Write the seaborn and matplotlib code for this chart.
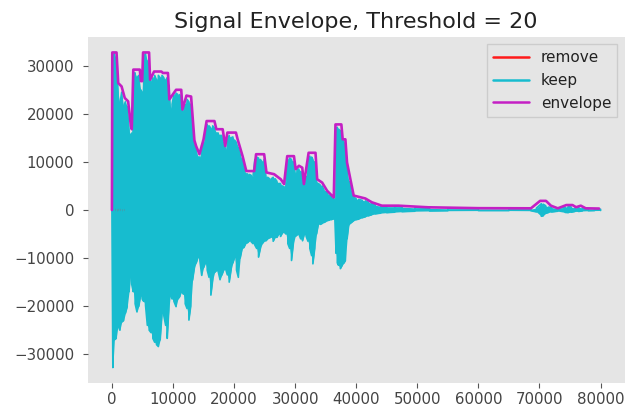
import numpy as np
import pandas as pd
import matplotlib
matplotlib.use("Agg")
import matplotlib.pyplot as plt
import seaborn as sns

# ---------------- data ----------------
title = "Signal Envelope, Threshold = 20"

env_x = [0, 60, 750, 1030, 1580, 2100, 2650, 3100, 3250, 3500, 4560, 4750, 4950, 5100,
         6080, 6250, 6900, 8090, 8360, 9170, 9400, 10500, 11350, 11550, 12200, 12960,
         13500, 13780, 14330, 15000, 15500, 16780, 17100, 18130, 18550, 18900, 20300,
         20580, 21390, 22000, 23290, 23600, 24920, 25300, 26550, 27640, 28180, 28700,
         29800, 30080, 30620, 31160, 31430, 32200, 33330, 33600, 34420, 35230, 36320,
         36600, 37560, 37780, 38220, 38490, 39040, 39580, 41480, 42560, 44190, 46900,
         51800, 60000, 68600, 70100, 71060, 71870, 73000, 74400, 75400, 76000, 76760,
         77570, 79750]
env_y = [0, 32767, 32767, 26400, 25700, 23300, 22600, 17500, 16800, 29200, 29200, 26800,
         26800, 32767, 32767, 27100, 28800, 28800, 28500, 28500, 23000, 25000, 25000,
         20900, 23800, 23600, 14500, 13300, 11600, 14700, 18500, 18500, 16800, 16800,
         13300, 16100, 16100, 14700, 11200, 8100, 8100, 11600, 11600, 7800, 7450, 6400,
         5400, 11200, 11200, 8500, 9200, 8800, 5400, 11900, 11900, 6400, 5700, 4000,
         2600, 17800, 17800, 14700, 14700, 9900, 6400, 3000, 2400, 1600, 900, 900, 560,
         380, 350, 1900, 1900, 900, 350, 1030, 1030, 580, 900, 350, 300]

keep_x = [0, 150, 400, 700, 1000, 1300, 1600, 1900, 2200, 2500, 2800, 3000, 3250, 3500,
          3800, 4100, 4400, 4700, 4950, 5200, 5500, 5800, 6100, 6400, 6700, 7000, 7300,
          7600, 7900, 8200, 8500, 8800, 9050, 9300, 9550, 9850, 10150, 10500, 10800,
          11100, 11400, 11700, 12000, 12300, 12600, 12900, 13200, 13500, 13800, 14100,
          14400, 14700, 15000, 15300, 15600, 15900, 16200, 16500, 16800, 17100, 17400,
          17700, 18000, 18300, 18600, 18900, 19200, 19500, 19800, 20100, 20400, 20700,
          21000, 21300, 21600, 21900, 22200, 22500, 22800, 23100, 23400, 23700, 24000,
          24300, 24600, 24900, 25200, 25500, 25800, 26100, 26400, 26700, 27000, 27300,
          27600, 27900, 28200, 28500, 28800, 29100, 29400, 29700, 30000, 30300, 30600,
          30900, 31200, 31500, 31800, 32100, 32400, 32700, 32900, 33200, 33500, 33800,
          34100, 34400, 34700, 35000, 35300, 35600, 35900, 36200, 36500, 36700, 36900,
          37100, 37400, 37700, 38000, 38220, 38500, 38760, 39000, 39500, 40000, 40400,
          41000, 41500, 42000, 42500, 43100, 44000, 45000, 46300, 47500, 49600, 52000,
          55000, 60000, 65000, 68600, 69500, 70300, 70600, 71000, 71500, 72000, 73000,
          74200, 74700, 75200, 75800, 76400, 77000, 78000, 79000, 80000]
keep_hi = [0, 32000, 32500, 31500, 24500, 22000, 24500, 21500, 22500, 21500, 16500, 15500,
           16000, 28500, 28500, 27500, 28000, 25000, 24500, 32000, 32500, 31000, 30000,
           26000, 27500, 28000, 27000, 28000, 27500, 28000, 27500, 27000, 27500, 26000,
           21000, 22000, 24000, 24300, 24000, 24000, 22500, 20000, 22000, 23000, 22500,
           22000, 16000, 13500, 12500, 11000, 11000, 13500, 14000, 16500, 17800, 17500,
           17000, 17500, 17000, 16000, 16000, 15500, 15500, 14000, 12500, 14500, 15500,
           15000, 15200, 14500, 14000, 13000, 11500, 10500, 9500, 7500, 7500, 7400, 7200,
           7000, 10500, 11000, 10800, 10500, 10000, 10500, 7000, 6800, 6500, 6500, 6800,
           6500, 6000, 5500, 5500, 5000, 4800, 6000, 10500, 10800, 10500, 10000, 7500,
           8500, 8500, 8000, 7500, 5000, 7000, 10000, 11200, 11000, 10500, 10000, 6000,
           5500, 5200, 5000, 4200, 3800, 3500, 3000, 2800, 2400, 2200, 17000, 17200,
           16800, 16500, 15000, 14000, 13500, 9000, 6000, 5000, 2800, 2300, 2200, 2000,
           1900, 1600, 1400, 1000, 800, 700, 700, 600, 450, 350, 250, 200, 200, 200, 400,
           1300, 1200, 900, 600, 500, 300, 600, 800, 600, 400, 600, 400, 250, 200, 150]
keep_lo = [0, -32768, -27000, -26700, -24000, -25000, -23300, -23000, -21500, -20100,
           -17000, -13600, -15500, -17000, -19500, -21200, -20000, -17700, -18500, -19000,
           -19800, -24000, -25000, -25500, -26700, -27500, -28000, -28400, -27000, -21500,
           -22000, -24000, -26700, -21000, -17700, -18500, -19000, -20100, -18500, -18000,
           -17000, -17500, -19500, -20500, -22900, -20000, -14600, -12000, -11000, -9800,
           -10500, -13600, -12000, -11000, -12500, -14000, -17700, -14500, -13000, -12600,
           -12800, -14500, -13500, -12500, -12200, -13500, -15000, -12500, -11000, -9800,
           -12500, -14000, -10000, -8100, -7800, -7000, -6800, -6400, -6600, -7000, -7300,
           -8000, -9800, -8000, -7000, -6500, -6400, -6000, -5800, -5600, -6500, -5700,
           -5700, -5000, -5500, -4800, -4600, -5000, -7000, -8000, -10500, -7000, -5500,
           -5200, -5000, -6000, -6400, -5000, -5500, -6500, -8000, -9500, -11200, -8000,
           -5000, -2900, -3000, -2800, -2600, -2400, -2200, -2100, -2000, -1900, -1900,
           -9000, -11000, -11500, -12200, -11500, -11000, -10500, -6000, -3200, -2800,
           -2300, -2000, -1900, -1600, -1400, -1200, -1000, -800, -650, -550, -450, -350,
           -250, -200, -150, -120, -120, -150, -400, -1300, -1200, -700, -500, -400, -250,
           -500, -550, -450, -300, -300, -200, -150, -120, -100]

remove_x = [0, 400, 800, 1200, 1600, 2000]
remove_y = [0, 150, -120, 90, -60, 0]

# ---------------- style ----------------
sns.set_theme(style="white", rc={
    "axes.facecolor": "#e5e5e5",
    "figure.facecolor": "white",
    "axes.grid": False,
    "axes.spines.left": False, "axes.spines.right": False,
    "axes.spines.top": False, "axes.spines.bottom": False,
    "xtick.bottom": True, "ytick.left": True,
})
plt.rcParams["font.family"] = ["DejaVu Sans"]

fig, ax = plt.subplots(figsize=(6.26, 4.15), dpi=100)
fig.subplots_adjust(left=87.5 / 626, right=625 / 626, top=1 - 36.7 / 415, bottom=1 - 383.3 / 415)

c_keep = "#17bccf"
c_env = "#c41fc4"
c_rem = "#ff1a1a"

# remove (hidden under keep, as in the reference)
sns.lineplot(x=remove_x, y=remove_y, color=c_rem, lw=1.5, label="remove",
             sort=False, estimator=None, ax=ax)

# keep: dense waveform represented by its per-anchor extremes
kx = np.asarray(keep_x, float)
hi = np.asarray(keep_hi, float)
lo = np.asarray(keep_lo, float)
ax.fill_between(kx, lo, hi, color=c_keep, lw=0)
wave_x = np.repeat(kx, 2)
first = np.where(np.arange(len(kx)) % 2 == 0, hi, lo)
second = np.where(np.arange(len(kx)) % 2 == 0, lo, hi)
wave_y = np.column_stack([first, second]).ravel()
sns.lineplot(x=wave_x, y=wave_y, color=c_keep, lw=1.2, label="keep",
             sort=False, estimator=None, ax=ax)

# envelope
sns.lineplot(x=env_x, y=env_y, color=c_env, lw=1.9, label="envelope",
             sort=False, estimator=None, ax=ax)

ax.set_xlim(-4000, 84000)
ax.set_ylim(-36045, 36044)
ax.set_xticks([0, 10000, 20000, 30000, 40000, 50000, 60000, 70000, 80000])
ax.set_yticks([-30000, -20000, -10000, 0, 10000, 20000, 30000])
ax.tick_params(axis="both", which="major", length=3.5, width=0.8, color="#555555",
               labelcolor="#444444", labelsize=10.8, direction="out")
ax.tick_params(axis="y", pad=6)
ax.tick_params(axis="x", pad=3)

ax.set_title(title, fontsize=16, color="#222222", pad=6)

leg = ax.legend(loc="upper right", fontsize=11, frameon=True, facecolor="#e5e5e5",
                edgecolor="#cccccc", framealpha=1.0, handlelength=2.3, fancybox=False)
for line in leg.get_lines():
    line.set_linewidth(1.8)
for t in leg.get_texts():
    t.set_color("#222222")

fig.savefig("out.png", dpi=100)
